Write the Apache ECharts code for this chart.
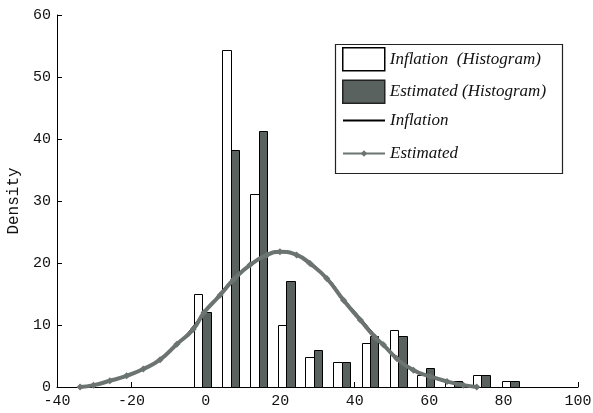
<!DOCTYPE html>
<html>
<head>
<meta charset="utf-8">
<script src="https://cdn.jsdelivr.net/npm/echarts@6/dist/echarts.min.js"></script>
<style>
  html, body { margin: 0; padding: 0; background: #fff; }
  #chart { width: 593px; height: 413px; }
</style>
</head>
<body>
<div id="chart"></div>
<script>
// histogram bins (centre of each white/dark pair) and heights
const binCenters = [-1, 6.7, 14.2, 21.6, 29, 36.5, 44.1, 51.7, 59.1, 66.6, 74, 81.8]
const inflationHist = [15, 54.4, 31.2, 10, 4.9, 4.1, 7.1, 9.2, 2, 1, 1.9, 1]
const estimatedHist = [12.1, 38.2, 41.3, 17.1, 6, 4.1, 8.2, 8.2, 3, 1, 1.9, 1]

// density curves
const estimatedCurve = [
  [-33.8, 0], [-30.2, 0.3], [-25.8, 1.0], [-21.3, 1.8], [-16.8, 2.9], [-12.3, 4.4],
  [-7.8, 6.9], [-3.4, 9.3], [-0.5, 12.0], [3.8, 14.8], [7.4, 17.3], [11.9, 19.7],
  [16.4, 21.3], [19.9, 21.8], [24.4, 21.3], [28, 19.9], [32.5, 17.5], [37, 14.0],
  [41.5, 10.8], [45.5, 8.0], [47.7, 6.8], [51.3, 4.6], [55.8, 2.7], [60.3, 1.7],
  [64.8, 0.9], [69.2, 0.3], [72.8, 0]
]
const inflationCurve = [
  [-33.8, 0], [-25.8, 1.0], [-16.8, 2.9], [-7.8, 6.9], [-0.5, 12.0], [7.4, 17.4],
  [16.4, 21.4], [19.9, 21.9], [24.4, 21.4], [32.5, 17.7], [37, 14.3], [41.5, 11.2],
  [45.5, 8.4], [51.3, 4.9], [55.8, 2.9], [60.3, 1.6], [64.8, 0.8], [72.8, 0]
]

const xTicks = { min: -40, max: 100, interval: 20 }
const yTicks = { min: 0, max: 60, interval: 10 }

const barHalf = 2.25
const darkGray = '#59625f'
const curveGray = '#6c7471'
const monoFont = 'Liberation Mono'
const serifFont = 'Liberation Serif'

const chart = echarts.init(document.getElementById('chart'), null, { renderer: 'canvas' })

function histItem(side, fill) {
  return (params, api) => {
    const c = api.value(0)
    const v = api.value(1)
    const a = api.coord([side < 0 ? c - barHalf : c, v])
    const b = api.coord([side < 0 ? c : c + barHalf, 0])
    const x0 = Math.round(a[0]) + 0.5
    const x1 = Math.round(b[0]) + 0.5
    const y0 = Math.round(a[1]) + 0.5
    const y1 = Math.round(b[1]) + 0.5
    return {
      type: 'rect',
      shape: { x: x0, y: y0, width: x1 - x0, height: y1 - y0 },
      style: { fill: fill, stroke: '#000', lineWidth: 1 }
    }
  }
}

const legendText = { fontFamily: serifFont, fontStyle: 'italic', fontSize: 17, color: '#111' }

const option = {
  animation: false,
  backgroundColor: '#fff',
  grid: { left: 57, right: 15, top: 15, bottom: 26, containLabel: false, outerBoundsMode: 'none' },
  xAxis: {
    type: 'value',
    min: xTicks.min,
    max: xTicks.max,
    interval: xTicks.interval,
    axisLine: { onZero: false, lineStyle: { color: '#000', width: 1 } },
    axisTick: { inside: true, length: 5, lineStyle: { color: '#000' } },
    splitLine: { show: false },
    axisLabel: { color: '#111', fontFamily: monoFont, fontSize: 15, margin: 7 }
  },
  yAxis: {
    type: 'value',
    min: yTicks.min,
    max: yTicks.max,
    interval: yTicks.interval,
    name: 'Density',
    nameLocation: 'middle',
    nameRotate: 90,
    nameGap: 34,
    nameTextStyle: { color: '#111', fontFamily: monoFont, fontSize: 16 },
    axisLine: { show: true, onZero: false, lineStyle: { color: '#000', width: 1 } },
    axisTick: { show: true, inside: true, length: 5, lineStyle: { color: '#000' } },
    splitLine: { show: false },
    axisLabel: { color: '#111', fontFamily: monoFont, fontSize: 15, margin: 6 }
  },
  legend: [
    {
      orient: 'vertical',
      left: 342,
      top: 47,
      padding: 0,
      itemWidth: 42,
      itemHeight: 23,
      itemGap: 8,
      selectedMode: false,
      textStyle: legendText,
      data: [
        { name: 'Inflation  (Histogram)', icon: 'rect', itemStyle: { color: '#fff', borderColor: '#000', borderWidth: 1.5 } },
        { name: 'Estimated (Histogram)', icon: 'rect', itemStyle: { color: darkGray, borderColor: '#222', borderWidth: 1.5 } }
      ]
    },
    {
      orient: 'vertical',
      left: 342,
      top: 112,
      padding: 0,
      itemWidth: 42,
      itemHeight: 8,
      itemGap: 16,
      selectedMode: false,
      textStyle: legendText,
      data: [
        { name: 'Inflation', itemStyle: { opacity: 0 } },
        { name: 'Estimated' }
      ]
    }
  ],
  graphic: [
    {
      type: 'rect',
      left: 333,
      top: 42,
      shape: { width: 227, height: 129 },
      style: { fill: 'none', stroke: '#222', lineWidth: 1.2 },
      z: 100
    }
  ],
  series: [
    {
      name: 'Inflation  (Histogram)',
      type: 'custom',
      renderItem: histItem(-1, '#fff'),
      encode: { x: 0, y: 1 },
      itemStyle: { color: '#fff' },
      data: binCenters.map((c, i) => [c, inflationHist[i]]),
      z: 2
    },
    {
      name: 'Estimated (Histogram)',
      type: 'custom',
      renderItem: histItem(1, darkGray),
      encode: { x: 0, y: 1 },
      itemStyle: { color: darkGray },
      data: binCenters.map((c, i) => [c, estimatedHist[i]]),
      z: 2
    },
    {
      name: 'Inflation',
      type: 'line',
      smooth: true,
      symbol: 'none',
      lineStyle: { color: '#000', width: 1 },
      itemStyle: { color: '#000' },
      data: inflationCurve,
      z: 3
    },
    {
      name: 'Estimated',
      type: 'line',
      smooth: true,
      symbol: 'diamond',
      symbolSize: 7,
      lineStyle: { color: curveGray, width: 4 },
      itemStyle: { color: curveGray },
      data: estimatedCurve,
      z: 4
    }
  ]
}

chart.setOption(option)
</script>
</body>
</html>
